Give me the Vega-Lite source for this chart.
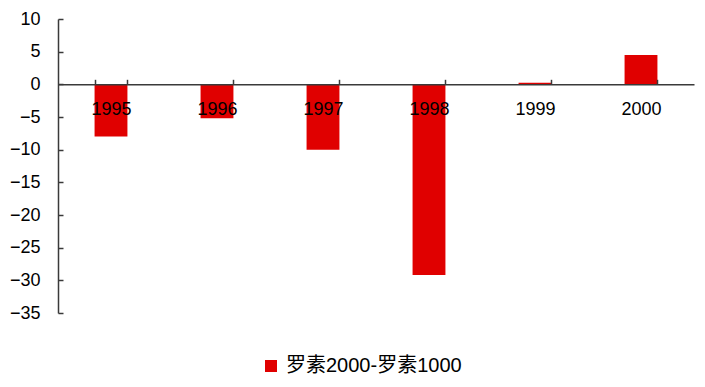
{
  "$schema": "https://vega.github.io/schema/vega-lite/v6.json",
  "width": 636,
  "height": 294,
  "autosize": {"type": "none"},
  "padding": {"left": 58, "top": 19, "right": 11, "bottom": 74},
  "background": "white",
  "data": {"values": [
    {"year": "1995", "series": "罗素2000-罗素1000", "value": -8.0},
    {"year": "1996", "series": "罗素2000-罗素1000", "value": -5.2},
    {"year": "1997", "series": "罗素2000-罗素1000", "value": -10.0},
    {"year": "1998", "series": "罗素2000-罗素1000", "value": -29.2},
    {"year": "1999", "series": "罗素2000-罗素1000", "value": 0.25},
    {"year": "2000", "series": "罗素2000-罗素1000", "value": 4.5}
  ]},
  "mark": {"type": "bar"},
  "encoding": {
    "x": {
      "field": "year", "type": "nominal", "sort": null,
      "scale": {"paddingInner": 0.69, "paddingOuter": 0.345},
      "axis": {
        "title": null, "labelAngle": 0, "offset": -228.7, "zindex": 1,
        "tickBand": "extent", "tickSize": -5, "tickColor": "#3a3a3a", "tickWidth": 1.5,
        "domainColor": "#3a3a3a", "domainWidth": 1.5,
        "labelFont": "Liberation Sans", "labelFontSize": 18, "labelColor": "black",
        "labelPadding": 21, "grid": false
      }
    },
    "y": {
      "field": "value", "type": "quantitative",
      "scale": {"domain": [-35, 10], "nice": false, "zero": false},
      "axis": {
        "title": null, "values": [-35, -30, -25, -20, -15, -10, -5, 0, 5, 10],
        "grid": false, "tickSize": -5, "tickColor": "#3a3a3a", "tickWidth": 1.5,
        "domainColor": "#3a3a3a", "domainWidth": 1.5,
        "labelFont": "Liberation Sans", "labelFontSize": 18, "labelColor": "black",
        "labelPadding": 23
      }
    },
    "color": {
      "field": "series", "type": "nominal",
      "scale": {"range": ["#e00000"]},
      "legend": {
        "title": null, "orient": "none", "legendX": 203, "legendY": 337,
        "symbolType": "square", "symbolSize": 144,
        "symbolStrokeWidth": 0, "labelFont": "Liberation Sans, Noto Sans CJK SC",
        "labelFontSize": 20, "labelColor": "black", "labelLimit": 400, "labelOffset": 5
      }
    }
  },
  "config": {"view": {"stroke": null}}
}
